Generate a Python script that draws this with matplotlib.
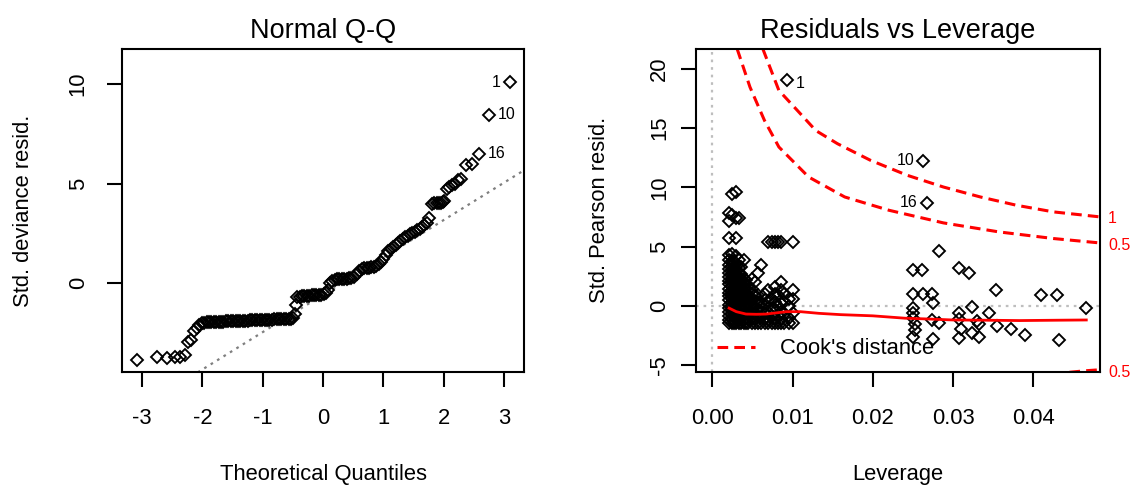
import matplotlib
matplotlib.use("Agg")
import matplotlib.pyplot as plt
import matplotlib.transforms as mtransforms
from matplotlib.lines import Line2D

plt.rcParams['font.family'] = ['Liberation Sans', 'DejaVu Sans']
plt.rcParams['axes.unicode_minus'] = False

# ---- Normal Q-Q ----
qq_theoretical = [
    -3.09, -2.75, -2.58, -2.46, -2.37, -2.29, -2.23, -2.18, -2.13, -2.09, -2.05, -2.01,
    -1.97, -1.93, -1.89, -1.85, -1.81, -1.77, -1.73, -1.69, -1.65, -1.61, -1.57, -1.53,
    -1.49, -1.45, -1.41, -1.37, -1.33, -1.29, -1.25, -1.21, -1.17, -1.13, -1.09, -1.05,
    -1.01, -0.97, -0.93, -0.89, -0.85, -0.81, -0.77, -0.73, -0.69, -0.65, -0.61, -0.57,
    -0.53, -0.49, -0.46, -0.45,
    -0.43, -0.39, -0.35, -0.31, -0.27, -0.23, -0.19, -0.15, -0.11, -0.07, -0.03, 0.01,
    0.05, 0.08,
    0.11, 0.15, 0.19, 0.23, 0.27, 0.31, 0.35, 0.39, 0.43, 0.47, 0.51,
    0.56, 0.60, 0.64, 0.68, 0.72, 0.76, 0.80, 0.84, 0.88,
    0.92, 0.96, 1.00, 1.04, 1.08, 1.12, 1.16, 1.20, 1.24, 1.28, 1.32, 1.36, 1.40, 1.44,
    1.48, 1.52, 1.56, 1.60, 1.64, 1.68, 1.72, 1.76,
    1.80, 1.84, 1.88, 1.92, 1.95, 1.98,
    2.01, 2.05, 2.09, 2.13, 2.18, 2.23, 2.29, 2.37, 2.46, 2.58, 2.75, 3.09,
]
qq_resid = [
    -3.89, -3.72, -3.75, -3.74, -3.70, -3.64, -2.97, -2.85, -2.40, -2.25, -2.10, -2.02,
    -2.00, -1.98, -1.97, -1.96, -1.96, -1.95, -1.95, -1.94, -1.94, -1.93, -1.93, -1.92,
    -1.92, -1.91, -1.91, -1.90, -1.90, -1.89, -1.89, -1.88, -1.88, -1.87, -1.87, -1.86,
    -1.86, -1.85, -1.85, -1.84, -1.84, -1.83, -1.83, -1.82, -1.82, -1.82, -1.81, -1.81,
    -1.80, -1.78, -1.55, -1.12,
    -0.70, -0.68, -0.66, -0.65, -0.64, -0.63, -0.62, -0.62, -0.61, -0.60, -0.58, -0.55,
    -0.48, -0.35,
    0.00, 0.10, 0.15, 0.18, 0.20, 0.20, 0.21, 0.22, 0.23, 0.25, 0.30,
    0.45, 0.62, 0.70, 0.73, 0.75, 0.77, 0.78, 0.80, 0.85,
    0.95, 1.08, 1.22, 1.40, 1.60, 1.70, 1.80, 1.92, 2.02, 2.12, 2.22, 2.30, 2.38, 2.45,
    2.52, 2.58, 2.65, 2.72, 2.80, 2.90, 3.02, 3.25,
    3.95, 4.00, 4.02, 4.00, 4.03, 4.05,
    4.10, 4.75, 4.85, 4.95, 5.00, 5.20, 5.25, 5.92, 6.00, 6.51, 8.47, 10.10,
]
qq_line_intercept = -0.59
qq_line_slope = 1.88
qq_ids = ["1", "10", "16"]
qq_id_x = [3.09, 2.75, 2.58]
qq_id_y = [10.10, 8.47, 6.51]

# ---- Residuals vs Leverage ----
dense_lev = [0.0021, 0.0024, 0.0027, 0.0030, 0.0033, 0.0036, 0.0039, 0.0042, 0.0045,
             0.0049, 0.0053, 0.0057, 0.0061, 0.0066, 0.0070, 0.0074, 0.0078, 0.0082,
             0.0086, 0.0090, 0.0095, 0.0100]
dense_resid = [
    [-1.49, -1.2, -0.85, -0.5, -0.2, 0.1, 0.45, 0.8, 1.1, 1.45, 1.8, 2.1, 2.45, 2.8, 3.1, 3.45, 3.85, 4.3, 5.7, 7.2, 7.8],
    [-1.49, -1.1, -0.7, -0.35, 0.0, 0.3, 0.65, 1.0, 1.3, 1.65, 2.0, 2.3, 2.7, 3.0, 3.4, 3.8, 4.4, 7.7, 9.4],
    [-1.49, -1.25, -0.9, -0.55, -0.2, 0.15, 0.5, 0.85, 1.2, 1.5, 1.9, 2.25, 2.6, 2.95, 3.3, 3.75],
    [-1.49, -1.05, -0.7, -0.3, 0.05, 0.4, 0.75, 1.1, 1.45, 1.8, 2.15, 2.5, 2.9, 3.3, 4.2, 5.7, 7.4, 9.6],
    [-1.49, -1.2, -0.8, -0.45, -0.1, 0.25, 0.6, 0.95, 1.3, 1.65, 2.0, 2.4, 2.8, 3.2, 3.9, 7.4],
    [-1.49, -1.1, -0.7, -0.3, 0.1, 0.45, 0.8, 1.15, 1.5, 1.9, 2.3, 2.7, 3.3],
    [-1.49, -1.2, -0.8, -0.4, 0.0, 0.4, 0.75, 1.1, 1.5, 1.9, 2.3, 3.85],
    [-1.49, -1.05, -0.6, -0.2, 0.2, 0.6, 1.0, 1.4, 1.8, 2.2],
    [-1.49, -1.1, -0.65, -0.25, 0.15, 0.55, 0.95, 1.35, 1.7],
    [-1.49, -1.0, -0.5, 0.0, 0.5, 1.0, 1.4, 2.3],
    [-1.49, -1.1, -0.6, -0.1, 0.4, 0.9, 2.0],
    [-1.49, -0.9, -0.3, 0.3, 0.9, 2.8],
    [-1.49, -0.95, -0.4, 0.2, 3.45],
    [-1.49, -1.1, -0.6, 0.0, 0.5, 1.0],
    [-1.49, -1.2, -0.5, 0.4, 1.3, 5.4],
    [-1.49, -0.9, -0.2, 0.6, 5.4],
    [-1.49, -1.1, -0.4, 0.3, 1.0, 1.6, 5.4],
    [-1.49, -0.8, 0.0, 0.9, 5.4],
    [-1.49, -1.1, -0.5, 0.2, 1.3, 2.0, 5.4],
    [-1.49, -0.7, 0.3, 1.0],
    [-1.49, -1.0, 0.0, 0.6],
    [-1.49, -0.6, 0.6, 1.3, 5.4],
]
far_lev = [0.0250, 0.0261, 0.0283, 0.0308, 0.0320, 0.0354, 0.0409, 0.0429, 0.0466,
           0.0250, 0.0262, 0.0274, 0.0275, 0.0250, 0.0250, 0.0250, 0.0253, 0.0252,
           0.0250, 0.0274, 0.0282, 0.0275, 0.0308, 0.0308, 0.0310, 0.0307, 0.0324,
           0.0324, 0.0332, 0.0332, 0.0330, 0.0345, 0.0355, 0.0372, 0.0390, 0.0432]
far_resid = [3.0, 3.0, 4.66, 3.15, 2.8, 1.35, 0.88, 0.88, -0.22,
             1.0, 1.0, 1.0, 0.22, -0.22, -0.65, -1.05, -1.5, -2.05,
             -2.6, -1.2, -1.45, -2.8, -0.65, -1.1, -2.0, -2.75, -0.1,
             -2.3, -2.6, -1.5, -1.25, -0.65, -1.7, -2.0, -2.45, -2.85]
lev_ids = ["1", "10", "16"]
lev_id_x = [0.00935, 0.0263, 0.0267]
lev_id_y = [19.03, 12.23, 8.72]

smooth_lev = [0.0021, 0.0030, 0.0042, 0.0055, 0.0067, 0.0080, 0.0092, 0.0110, 0.0133,
              0.0160, 0.0200, 0.0240, 0.0270, 0.0300, 0.0340, 0.0383, 0.0430, 0.0466]
smooth_resid = [-0.2, -0.5, -0.7, -0.72, -0.7, -0.6, -0.5, -0.5, -0.64,
                -0.75, -0.85, -1.05, -1.12, -1.2, -1.22, -1.25, -1.22, -1.2]

cook1_lev = [0.0063, 0.0083, 0.0106, 0.0129, 0.0156, 0.0197, 0.0243, 0.0288, 0.0334, 0.0379, 0.0425, 0.0484]
cook1_resid = [21.7, 18.19, 16.5, 14.8, 13.69, 12.29, 11.02, 10.03, 9.19, 8.49, 7.93, 7.50]
cook05_lev = [0.0031, 0.0047, 0.0065, 0.0083, 0.0120, 0.0165, 0.0220, 0.0288, 0.0357, 0.0425, 0.0484]
cook05_resid = [21.7, 18.47, 15.66, 13.41, 10.88, 9.19, 8.07, 7.0, 6.24, 5.68, 5.30]
cook05_neg_lev = [0.0445, 0.0463, 0.0484]
cook05_neg_resid = [-5.62, -5.5, -5.40]
cook_labels = ["1", "0.5", "0.5"]
cook_label_y = [7.4, 5.05, -5.65]

RED = "#ff0000"
FS = 15.8
pt_kw = dict(linestyle="none", marker="D", markersize=6.6, mfc="none", mec="black", mew=1.35)

fig = plt.figure(figsize=(11.3, 4.9), dpi=100)
ax1 = fig.add_axes([0.1080, 0.2402, 0.3558, 0.6608])
ax2 = fig.add_axes([0.6159, 0.2402, 0.3575, 0.6608])

for ax in (ax1, ax2):
    for s in ax.spines.values():
        s.set_linewidth(1.5)
    ax.tick_params(direction="out", length=10.5, width=1.5, labelsize=FS)
    ax.tick_params(axis="x", pad=15.5)

# left panel
ax1.axline((0, qq_line_intercept), slope=qq_line_slope, color="#7f7f7f",
           linestyle=(0, (1.2, 2.2)), lw=1.6)
ax1.plot(qq_theoretical, qq_resid, **pt_kw)
for lab, x, y in zip(qq_ids, qq_id_x, qq_id_y):
    if lab == "1":
        ax1.annotate(lab, (x, y), xytext=(-6.5, 0), textcoords="offset points",
                     ha="right", va="center", fontsize=11.5)
    else:
        ax1.annotate(lab, (x, y), xytext=(6.5, 0), textcoords="offset points",
                     ha="left", va="center", fontsize=11.5)
ax1.set_xlim(-3.33, 3.33)
ax1.set_ylim(-4.49, 11.79)
ax1.set_xticks([-3, -2, -1, 0, 1, 2, 3])
ax1.set_yticks([0, 5, 10])
ax1.tick_params(axis="y", pad=13.5)
ax1.set_title("Normal Q-Q", fontsize=19.5, pad=7.5)
ax1.set_xlabel("Theoretical Quantiles", fontsize=FS)
ax1.set_ylabel("Std. deviance resid.", fontsize=FS)
ax1.xaxis.set_label_coords(0.5, -0.317)
ax1.xaxis.label.set_va("center")
ax1.yaxis.set_label_coords(-0.246, 0.5)
ax1.yaxis.label.set_va("center")

# right panel
ax2.axhline(0, color="#bebebe", linestyle=(0, (1.2, 2.2)), lw=1.6)
ax2.axvline(0, color="#bebebe", linestyle=(0, (1.2, 2.2)), lw=1.6)
for x, ys in zip(dense_lev, dense_resid):
    ax2.plot([x] * len(ys), ys, **pt_kw)
ax2.plot(far_lev, far_resid, **pt_kw)
ax2.plot(lev_id_x, lev_id_y, **pt_kw)
ax2.plot(smooth_lev, smooth_resid, color=RED, lw=2)
dash = dict(color=RED, lw=2.2, linestyle=(0, (3.5, 2)))
ax2.plot(cook1_lev, cook1_resid, **dash)
ax2.plot(cook05_lev, cook05_resid, **dash)
ax2.plot(cook05_neg_lev, cook05_neg_resid, **dash)
for lab, x, y in zip(lev_ids, lev_id_x, lev_id_y):
    if lab == "1":
        ax2.annotate(lab, (x, y), xytext=(6, -2), textcoords="offset points",
                     ha="left", va="center", fontsize=11.5)
    else:
        ax2.annotate(lab, (x, y), xytext=(-6.5, 0), textcoords="offset points",
                     ha="right", va="center", fontsize=11.5)
trans = mtransforms.blended_transform_factory(ax2.transAxes, ax2.transData)
for lab, y in zip(cook_labels, cook_label_y):
    ax2.text(1.02, y, lab, transform=trans, color=RED, fontsize=11.5,
             ha="left", va="center", clip_on=False)
ax2.set_xlim(-0.00203, 0.0483)
ax2.set_ylim(-5.62, 21.73)
ax2.set_xticks([0.00, 0.01, 0.02, 0.03, 0.04])
ax2.set_xticklabels(["0.00", "0.01", "0.02", "0.03", "0.04"])
ax2.set_yticks([-5, 0, 5, 10, 15, 20])
ax2.tick_params(axis="y", pad=8)
ax2.set_title("Residuals vs Leverage", fontsize=19.5, pad=7.5)
ax2.set_xlabel("Leverage", fontsize=FS)
ax2.set_ylabel("Std. Pearson resid.", fontsize=FS)
ax2.xaxis.set_label_coords(0.5, -0.317)
ax2.xaxis.label.set_va("center")
ax2.yaxis.set_label_coords(-0.238, 0.5)
ax2.yaxis.label.set_va("center")
ax2.legend(handles=[Line2D([], [], color=RED, lw=2.2, linestyle=(0, (3.5, 2)))],
           labels=["Cook's distance"], loc="lower left", bbox_to_anchor=(0.052, 0.04),
           frameon=False, fontsize=FS, handlelength=1.75, handletextpad=1.1,
           borderpad=0, borderaxespad=0)

for ax in (ax1, ax2):
    for t in ax.get_yticklabels():
        t.set_rotation(90)
        t.set_va("center")

fig.savefig("out.png", dpi=100)
